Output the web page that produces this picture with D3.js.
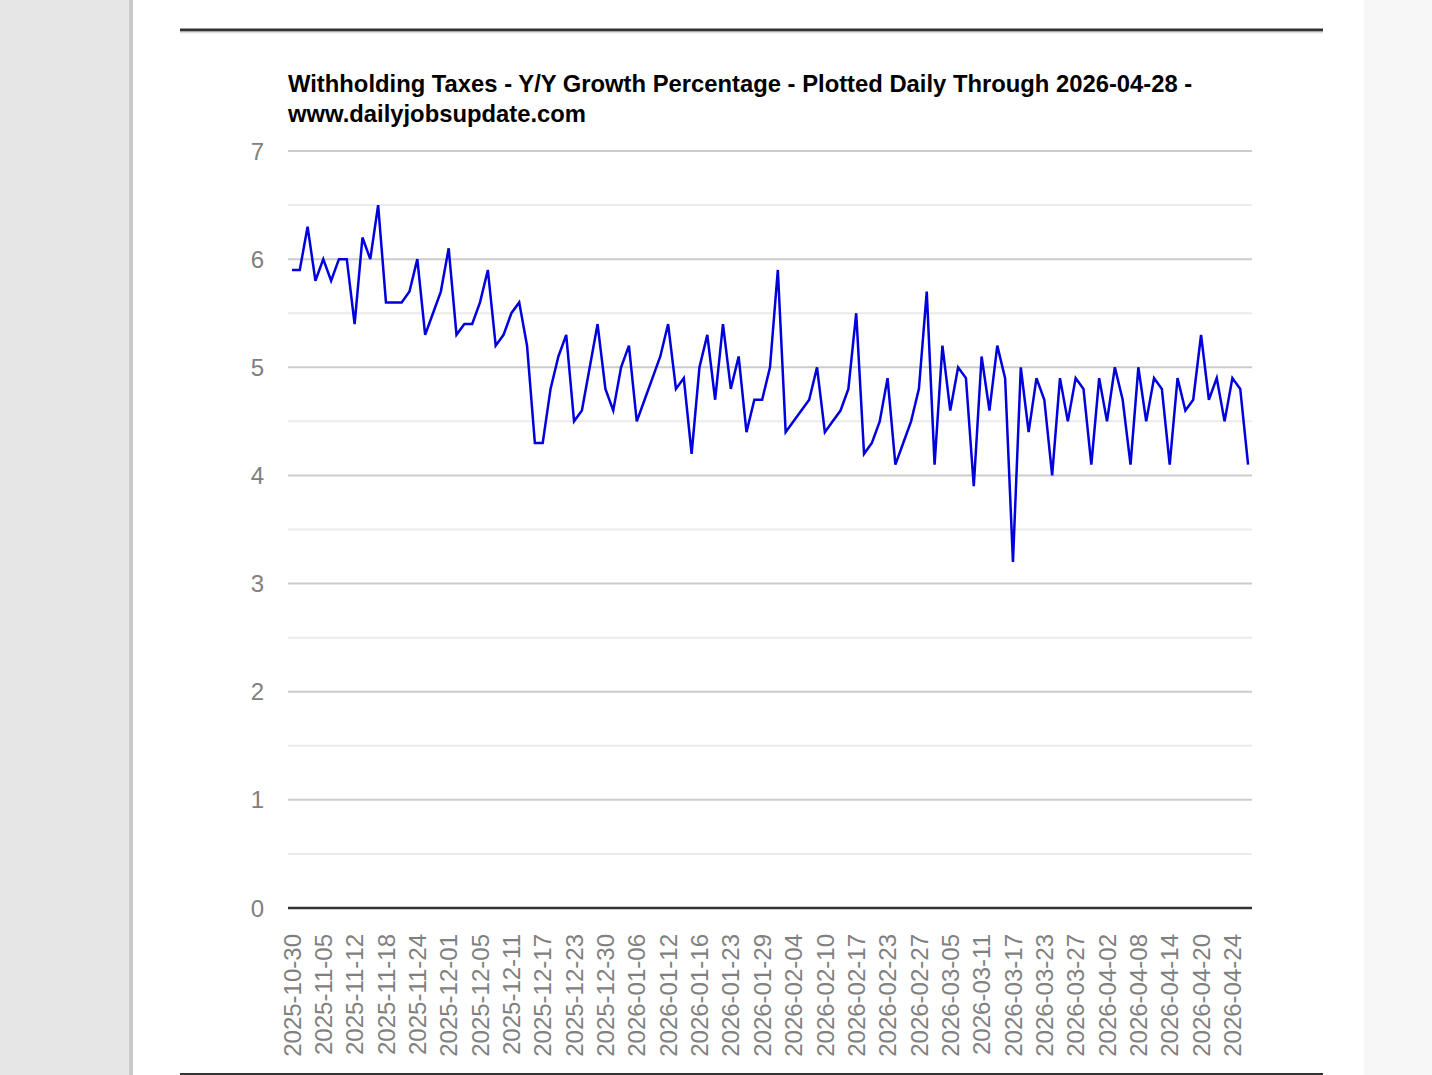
<!DOCTYPE html>
<html lang="en">
<head>
    <meta charset="UTF-8">
    <title>Withholding Taxes Y/Y</title>
    <script src="https://cdn.jsdelivr.net/npm/d3@7"></script>
    <style>
        body { margin: 0; background: #fff; }
        svg { display: block; font-family: "Liberation Sans", Arial, sans-serif; }
    </style>
</head>
<body>
<svg width="1432" height="1075"></svg>
<script>
    // business days plotted (categorical x axis)
    const dates = [
        "2025-10-30","2025-10-31","2025-11-03","2025-11-04","2025-11-05","2025-11-06","2025-11-07","2025-11-10",
        "2025-11-12","2025-11-13","2025-11-14","2025-11-17","2025-11-18","2025-11-19","2025-11-20","2025-11-21",
        "2025-11-24","2025-11-25","2025-11-26","2025-11-28","2025-12-01","2025-12-02","2025-12-03","2025-12-04",
        "2025-12-05","2025-12-08","2025-12-09","2025-12-10","2025-12-11","2025-12-12","2025-12-15","2025-12-16",
        "2025-12-17","2025-12-18","2025-12-19","2025-12-22","2025-12-23","2025-12-24","2025-12-26","2025-12-29",
        "2025-12-30","2025-12-31","2026-01-02","2026-01-05","2026-01-06","2026-01-07","2026-01-08","2026-01-09",
        "2026-01-12","2026-01-13","2026-01-14","2026-01-15","2026-01-16","2026-01-20","2026-01-21","2026-01-22",
        "2026-01-23","2026-01-26","2026-01-27","2026-01-28","2026-01-29","2026-01-30","2026-02-02","2026-02-03",
        "2026-02-04","2026-02-05","2026-02-06","2026-02-09","2026-02-10","2026-02-11","2026-02-12","2026-02-13",
        "2026-02-17","2026-02-18","2026-02-19","2026-02-20","2026-02-23","2026-02-24","2026-02-25","2026-02-26",
        "2026-02-27","2026-03-02","2026-03-03","2026-03-04","2026-03-05","2026-03-06","2026-03-09","2026-03-10",
        "2026-03-11","2026-03-12","2026-03-13","2026-03-16","2026-03-17","2026-03-18","2026-03-19","2026-03-20",
        "2026-03-23","2026-03-24","2026-03-25","2026-03-26","2026-03-27","2026-03-30","2026-03-31","2026-04-01",
        "2026-04-02","2026-04-03","2026-04-06","2026-04-07","2026-04-08","2026-04-09","2026-04-10","2026-04-13",
        "2026-04-14","2026-04-15","2026-04-16","2026-04-17","2026-04-20","2026-04-21","2026-04-22","2026-04-23",
        "2026-04-24","2026-04-27","2026-04-28"
    ];

    // Y/Y growth %
    const growth = [
        5.9,5.9,6.3,5.8,6.0,5.8,6.0,6.0,5.4,6.2,6.0,6.5,5.6,5.6,5.6,5.7,
        6.0,5.3,5.5,5.7,6.1,5.3,5.4,5.4,5.6,5.9,5.2,5.3,5.5,5.6,5.2,4.3,
        4.3,4.8,5.1,5.3,4.5,4.6,5.0,5.4,4.8,4.6,5.0,5.2,4.5,4.7,4.9,5.1,
        5.4,4.8,4.9,4.2,5.0,5.3,4.7,5.4,4.8,5.1,4.4,4.7,4.7,5.0,5.9,4.4,
        4.5,4.6,4.7,5.0,4.4,4.5,4.6,4.8,5.5,4.2,4.3,4.5,4.9,4.1,4.3,4.5,
        4.8,5.7,4.1,5.2,4.6,5.0,4.9,3.9,5.1,4.6,5.2,4.9,3.2,5.0,4.4,4.9,
        4.7,4.0,4.9,4.5,4.9,4.8,4.1,4.9,4.5,5.0,4.7,4.1,5.0,4.5,4.9,4.8,
        4.1,4.9,4.6,4.7,5.3,4.7,4.9,4.5,4.9,4.8,4.1
    ];

    const yTicks = [0, 1, 2, 3, 4, 5, 6, 7];
    const yMinor = [0.5, 1.5, 2.5, 3.5, 4.5, 5.5, 6.5];
    const titleLines = [
        "Withholding Taxes - Y/Y Growth Percentage - Plotted Daily Through 2026-04-28 -",
        "www.dailyjobsupdate.com"
    ];

    const svg = d3.select("svg");

    // page frame
    svg.append("rect").attr("x", 0).attr("y", 0).attr("width", 130).attr("height", 1075).attr("fill", "#e6e6e6");
    svg.append("rect").attr("x", 129).attr("y", 0).attr("width", 4).attr("height", 1075).attr("fill", "#c9c9c9");
    svg.append("rect").attr("x", 1364).attr("y", 0).attr("width", 68).attr("height", 1075).attr("fill", "#f7f7f7");
    svg.append("line").attr("x1", 180).attr("x2", 1323).attr("y1", 30).attr("y2", 30)
        .attr("stroke", "#333").attr("stroke-width", 3);
    svg.append("line").attr("x1", 180).attr("x2", 1323).attr("y1", 32.5).attr("y2", 32.5)
        .attr("stroke", "#ddd").attr("stroke-width", 1.5);
    svg.append("line").attr("x1", 180).attr("x2", 1323).attr("y1", 1074).attr("y2", 1074)
        .attr("stroke", "#333").attr("stroke-width", 2);

    const plotL = 288, plotR = 1252, plotT = 151, plotB = 908;

    const x = d3.scalePoint().domain(dates).range([plotL, plotR]).padding(0.5);
    const y = d3.scaleLinear().domain([0, 7]).range([plotB, plotT]);

    // gridlines
    svg.append("g").selectAll("line").data(yMinor).join("line")
        .attr("x1", plotL).attr("x2", plotR)
        .attr("y1", d => y(d)).attr("y2", d => y(d))
        .attr("stroke", "#ebebeb").attr("stroke-width", 2);
    svg.append("g").selectAll("line").data(yTicks.filter(d => d !== 0)).join("line")
        .attr("x1", plotL).attr("x2", plotR)
        .attr("y1", d => y(d)).attr("y2", d => y(d))
        .attr("stroke", "#cccccc").attr("stroke-width", 2);

    // y labels
    svg.append("g").selectAll("text").data(yTicks).join("text")
        .attr("x", 264).attr("y", d => y(d)).attr("dy", "0.36em")
        .attr("text-anchor", "end").attr("fill", "#808080")
        .style("font-size", "24px").text(d => d);

    // x labels: every 4th category
    const shown = dates.filter((d, i) => i % 4 === 0);
    svg.append("g").selectAll("text").data(shown).join("text")
        .attr("transform", d => `translate(${x(d)},934) rotate(-90)`)
        .attr("dy", "0.36em")
        .attr("text-anchor", "end").attr("fill", "#808080")
        .style("font-size", "24px").text(d => d);

    // the series
    const line = d3.line().x((d, i) => x(dates[i])).y(d => y(d));
    svg.append("path").datum(growth)
        .attr("d", line).attr("fill", "none")
        .attr("stroke", "#0000dd").attr("stroke-width", 2.5)
        .attr("stroke-linejoin", "miter");

    // baseline
    svg.append("line").attr("x1", plotL).attr("x2", plotR)
        .attr("y1", y(0)).attr("y2", y(0))
        .attr("stroke", "#333").attr("stroke-width", 2.5);

    // title
    svg.append("g").selectAll("text").data(titleLines).join("text")
        .attr("x", 288).attr("y", (d, i) => 92 + i * 30)
        .attr("fill", "#000").style("font-weight", "bold").style("font-size", "23.8px")
        .text(d => d);
</script>
</body>
</html>
